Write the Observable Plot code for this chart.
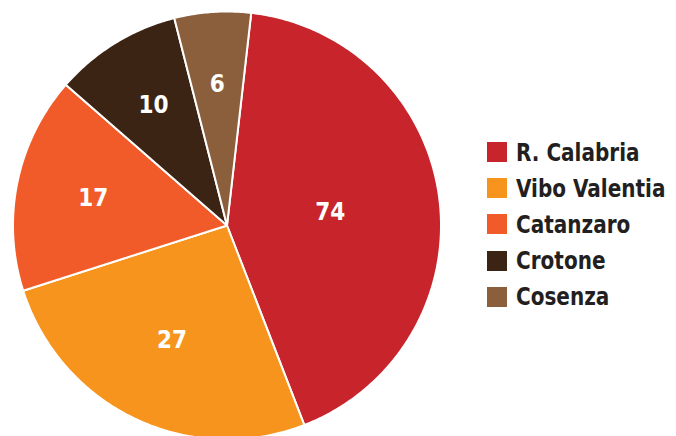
<!DOCTYPE html>
<html>
<head>
<meta charset="utf-8">
<script src="https://cdn.jsdelivr.net/npm/d3@7"></script>
<script src="https://cdn.jsdelivr.net/npm/@observablehq/plot@0.6"></script>
<style>
  html, body { margin: 0; padding: 0; background: #fff; }
  #wrap { position: relative; width: 676px; height: 436px; overflow: hidden; }
  #legend { position: absolute; left: 487px; top: 142px; font-family: 'Liberation Sans Narrow', 'DejaVu Sans Condensed', 'Roboto', sans-serif; font-stretch: condensed; font-weight: bold; font-size: 25px; color: #231F20; white-space: nowrap; }
  .row { display: flex; align-items: center; height: 36.2px; }
  .row:first-child { margin-top: -8px; }
  .sw { width: 20px; height: 20px; margin-right: 9px; flex: none; }
  .lab { display: inline-block; transform: scaleX(0.89); transform-origin: left center; }
</style>
</head>
<body>
<div id="wrap"><div id="chart"></div><div id="legend"></div></div>
<script>
// Categories and values
const regions = ["R. Calabria", "Vibo Valentia", "Catanzaro", "Crotone", "Cosenza"];
// slice sizes as drawn (angular share)
const shares = [44, 27, 17, 10, 6];
// numbers printed on the slices
const printed = ["74", "27", "17", "10", "6"];
const colors = ["#C8242C", "#F7941D", "#F15A29", "#3C2415", "#8B5E3C"];

const startDeg = 6.5; // rotation of the first slice (clockwise from 12 o'clock)

const total = d3.sum(shares);
const slicePts = [];
const labelPts = [];
let acc = 0;
regions.forEach((name, i) => {
  const a0 = (startDeg / 360) * 2 * Math.PI + (acc / total) * 2 * Math.PI;
  acc += shares[i];
  const a1 = (startDeg / 360) * 2 * Math.PI + (acc / total) * 2 * Math.PI;
  const n = Math.max(8, Math.ceil((a1 - a0) / 0.01));
  slicePts.push({name, x: 0, y: 0});
  for (let k = 0; k <= n; k++) {
    const a = a0 + (a1 - a0) * k / n;
    slicePts.push({name, x: Math.sin(a), y: Math.cos(a)});
  }
  // centroid of a circular sector
  const half = (a1 - a0) / 2, mid = (a0 + a1) / 2;
  const rc = (2 / 3) * Math.sin(half) / half;
  labelPts.push({name, text: printed[i], x: rc * Math.sin(mid), y: rc * Math.cos(mid)});
});

const chart = Plot.plot({
  width: 676,
  height: 436,
  margin: 0,
  x: {domain: [-1, 1], range: [12.5, 440.5], axis: null},
  y: {domain: [-1, 1], range: [439, 11], axis: null},
  color: {domain: regions, range: colors},
  style: {background: "transparent"},
  marks: [
    Plot.line(slicePts, {x: "x", y: "y", z: "name", fill: "name", stroke: "white", strokeWidth: 2, curve: "linear-closed", strokeLinejoin: "round"}),
    Plot.text(labelPts, {x: "x", y: "y", text: "text", fill: "white", fontSize: 24, fontWeight: "bold", fontFamily: "'Liberation Sans Narrow', 'DejaVu Sans Condensed', 'Roboto', sans-serif"})
  ]
});
d3.select(chart).selectAll("text").style("font-stretch", "condensed");
document.getElementById("chart").appendChild(chart);

const legend = d3.select("#legend");
regions.forEach((name, i) => {
  const row = legend.append("div").attr("class", "row");
  row.append("div").attr("class", "sw").style("background", colors[i]);
  row.append("span").attr("class", "lab").text(name);
});
</script>
</body>
</html>
